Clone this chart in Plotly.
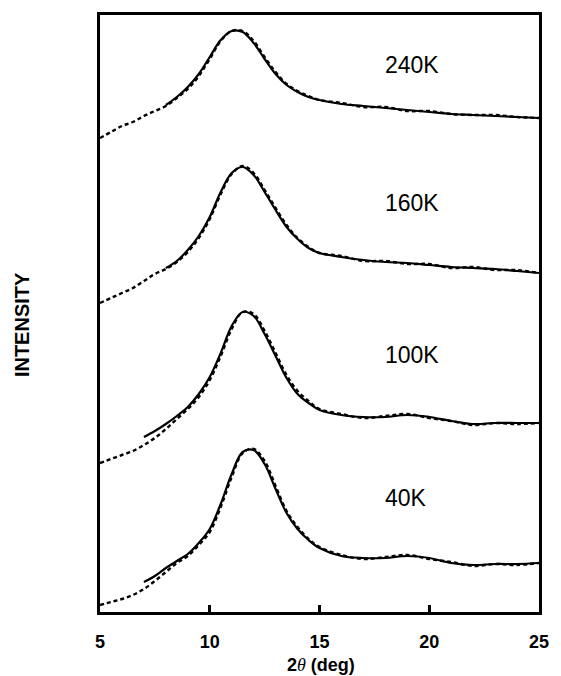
import plotly.graph_objects as go

# --- data ---
two_theta = [5, 5.5, 6, 6.5, 7, 7.5, 8, 8.5, 9, 9.5, 10, 10.5, 11, 11.5, 12, 12.5,
             13, 13.5, 14, 14.5, 15, 16, 17, 18, 19, 20, 21, 22, 23, 24, 25]

obs_240 = [474, 480, 486, 490, 496, 501, 506, 514, 523, 536, 553, 571, 581, 581, 571, 555,
           540, 528, 521, 516, 512, 509, 505, 505, 501, 501, 498, 497, 497, 495, 494]
obs_160 = [309, 314, 319, 324, 331, 338, 343, 350, 360, 374, 393, 418, 438, 446, 439, 422,
           404, 387, 374, 365, 359, 356, 351, 351, 348, 348, 344, 345, 342, 342, 339]
obs_100 = [149, 153, 157, 161, 167, 174, 183, 193, 203, 215, 232, 256, 283, 300, 298, 281,
           259, 237, 221, 211, 203, 198, 194, 196, 198, 194, 191, 187, 189, 188, 189]
obs_40 = [7, 10, 13, 17, 23, 31, 40, 49, 56, 67, 80, 105, 135, 159, 163, 151,
          126, 101, 85, 73, 65, 57, 53, 55, 57, 53, 50, 46, 48, 47, 49]

fit_x_hi = [8, 8.5, 9, 9.5, 10, 10.5, 11, 11.5, 12, 12.5, 13, 13.5, 14, 14.5, 15,
            16, 17, 18, 19, 20, 21, 22, 23, 24, 25]
fit_240 = [507, 515, 525, 538, 555, 572, 581, 580, 569, 553, 538, 527, 520, 515, 512,
           508, 506, 504, 502, 500, 498, 497, 496, 495, 494]
fit_160 = [344, 351, 362, 376, 395, 420, 439, 445, 437, 420, 402, 385, 373, 364, 359,
           355, 352, 350, 349, 347, 345, 344, 343, 341, 339]

fit_x_lo = [7, 7.5, 8, 8.5, 9, 9.5, 10, 10.5, 11, 11.5, 12, 12.5, 13, 13.5, 14, 14.5, 15,
            16, 17, 18, 19, 20, 21, 22, 23, 24, 25]
fit_100 = [175, 181, 188, 196, 205, 218, 235, 259, 286, 300, 296, 278, 256, 234, 218, 209, 202,
           197, 195, 195, 197, 195, 191, 188, 189, 189, 189]
fit_40 = [30, 36, 44, 51, 58, 69, 83, 108, 138, 160, 162, 148, 123, 99, 83, 72, 64,
          56, 54, 54, 56, 54, 49, 47, 48, 48, 49]

temp_labels = ["240K", "160K", "100K", "40K"]
label_x = [19.2, 19.2, 19.2, 18.95]
label_y = [547, 409, 257, 114]

x_ticks = [5, 10, 15, 20, 25]
x_ticktext = ["5", "10", "15", "20", "25"]

# --- figure ---
fig = go.Figure()

obs_sets = [obs_240, obs_160, obs_100, obs_40]
fit_sets = [(fit_x_hi, fit_240), (fit_x_hi, fit_160), (fit_x_lo, fit_100), (fit_x_lo, fit_40)]

for obs in obs_sets:
    fig.add_trace(go.Scatter(x=two_theta, y=obs, mode="lines",
                             line=dict(color="black", width=2.4, dash="4px,3px", shape="spline"),
                             showlegend=False, hoverinfo="skip"))
for fx, fy in fit_sets:
    fig.add_trace(go.Scatter(x=fx, y=fy, mode="lines",
                             line=dict(color="black", width=2.2, shape="spline"),
                             showlegend=False, hoverinfo="skip"))

for t, lx, ly in zip(temp_labels, label_x, label_y):
    fig.add_annotation(x=lx, y=ly, xref="x", yref="y", text=t, showarrow=False,
                       font=dict(family="Liberation Sans, Arial", size=23, color="black"))

fig.add_annotation(xref="paper", yref="paper", x=0.503, y=-0.089,
                   text="<b>2</b><i><span style=\"font-family:'Liberation Serif'\">θ</span></i><b> (deg)</b>",
                   showarrow=False, xanchor="center", yanchor="middle",
                   font=dict(family="Liberation Sans, Arial", size=18, color="black"))

fig.add_annotation(xref="paper", yref="paper", x=-0.178, y=0.482, text="<b>INTENSITY</b>",
                   textangle=-90, showarrow=False, xanchor="center", yanchor="middle",
                   font=dict(family="Liberation Sans, Arial", size=20, color="black"))

fig.update_xaxes(range=[5, 25], tickvals=x_ticks, ticktext=x_ticktext,
                 ticks="inside", ticklen=7, tickwidth=2.5, tickcolor="black",
                 showline=True, linewidth=2.5, linecolor="black", mirror=True,
                 showgrid=False, zeroline=False, ticklabelstandoff=12,
                 tickfont=dict(family="Liberation Sans, Arial", size=18, color="black", weight="bold"))
fig.update_yaxes(range=[0, 597], showticklabels=False, ticks="",
                 showline=True, linewidth=2.5, linecolor="black", mirror=True,
                 showgrid=False, zeroline=False)

fig.update_layout(width=561, height=676, autosize=False,
                  margin=dict(l=100, r=14, t=15, b=64),
                  paper_bgcolor="white", plot_bgcolor="white")

fig.write_html("out.html")
